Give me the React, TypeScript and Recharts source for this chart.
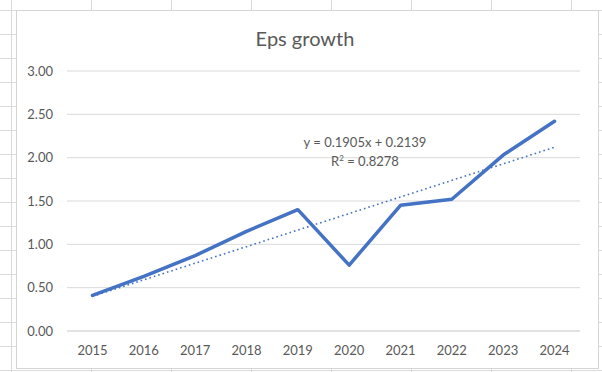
import { CartesianGrid, Line, LineChart, XAxis, YAxis } from "recharts";

const YEARS = ["2015", "2016", "2017", "2018", "2019", "2020", "2021", "2022", "2023", "2024"];
const EPS = [0.41, 0.63, 0.87, 1.15, 1.4, 0.76, 1.45, 1.52, 2.03, 2.42];
// linear trendline, start and end values as drawn
const TREND_START = 0.4;
const TREND_END = 2.12;
const Y_TICKS = [0, 0.5, 1, 1.5, 2, 2.5, 3];

const TEXT = "#595959";
const BLUE = "#4472C4";
const FONT = "Lato, 'Noto Sans', sans-serif";

const data = YEARS.map((year, i) => ({
  year,
  eps: EPS[i],
  trend: i === 0 ? TREND_START : i === YEARS.length - 1 ? TREND_END : null,
}));

export default function App() {
  return (
    <div
      style={{
        position: "absolute",
        left: 0,
        top: 0,
        width: 602,
        height: 372,
        overflow: "hidden",
        backgroundColor: "#fff",
        backgroundImage:
          "linear-gradient(to right, #dadada 1px, transparent 1px), linear-gradient(to bottom, #dadada 1px, transparent 1px)",
        backgroundSize: "80px 24px",
        backgroundPosition: "11px 10px",
        fontFamily: FONT,
      }}
    >
      <div
        style={{
          position: "absolute",
          left: 16,
          top: 10,
          width: 583,
          height: 359,
          boxSizing: "border-box",
          border: "1px solid #d4d4d4",
          background: "#fff",
        }}
      >
        <LineChart
          width={581}
          height={357}
          data={data}
          margin={{ top: 60, right: 18, bottom: 7, left: 0 }}
        >
          <CartesianGrid vertical={false} stroke="#d9d9d9" />
          <XAxis
            dataKey="year"
            height={30}
            padding={{ left: 25.5, right: 25.5 }}
            axisLine={{ stroke: "#d9d9d9" }}
            tickLine={false}
            tickSize={0}
            tickMargin={15}
            tick={{ fill: TEXT, fontSize: 13, fontFamily: FONT }}
          />
          <YAxis
            width={50}
            domain={[0, 3]}
            ticks={Y_TICKS}
            axisLine={false}
            tickLine={false}
            tickSize={0}
            tickMargin={14}
            tickFormatter={(v: number) => v.toFixed(2)}
            tick={{ fill: TEXT, fontSize: 13, fontFamily: FONT }}
          />
          <Line
            type="linear"
            dataKey="eps"
            stroke={BLUE}
            strokeWidth={3.5}
            strokeLinecap="round"
            strokeLinejoin="round"
            dot={false}
            activeDot={false}
            isAnimationActive={false}
          />
          <Line
            type="linear"
            dataKey="trend"
            stroke={BLUE}
            strokeWidth={1.6}
            strokeDasharray="1.6 3"
            connectNulls
            dot={false}
            activeDot={false}
            isAnimationActive={false}
          />
        </LineChart>
      </div>

      <div
        style={{
          position: "absolute",
          left: 205,
          width: 200,
          top: 26,
          textAlign: "center",
          fontSize: 20,
          lineHeight: "24px",
          color: TEXT,
        }}
      >
        Eps growth
      </div>

      <div
        style={{
          position: "absolute",
          left: 265,
          width: 200,
          top: 133,
          textAlign: "center",
          fontSize: 13,
          lineHeight: "19px",
          color: TEXT,
        }}
      >
        <div>y = 0.1905x + 0.2139</div>
        <div>
          R<sup style={{ fontSize: 8, lineHeight: 0 }}>2</sup> = 0.8278
        </div>
      </div>
    </div>
  );
}
